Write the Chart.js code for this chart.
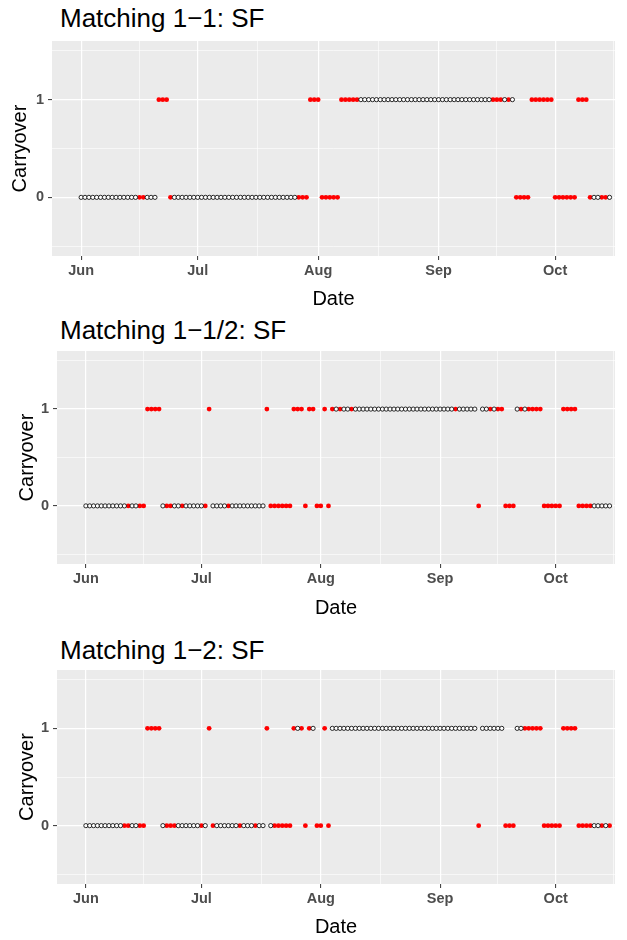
<!DOCTYPE html>
<html>
<head>
<meta charset="utf-8">
<script src="https://cdn.jsdelivr.net/npm/chart.js@4.4.0/dist/chart.umd.min.js"></script>
<style>
  body { margin: 0; background: #fff; width: 627px; height: 940px; position: relative; overflow: hidden;
         font-family: "Liberation Sans", Arial, sans-serif; }
  .title { position: absolute; left: 60px; font-size: 26px; line-height: 30px; color: #000; white-space: nowrap; }
  canvas { position: absolute; left: 0; }
</style>
</head>
<body>
<div class="title" style="top:3px">Matching 1−1: SF</div>
<div class="title" style="top:315px">Matching 1−1/2: SF</div>
<div class="title" style="top:635px">Matching 1−2: SF</div>
<canvas id="c1"></canvas>
<canvas id="c2"></canvas>
<canvas id="c3"></canvas>
<script>
// day 0 = 1 June, one entry per day up to 15 October
const monthLabels = ['Jun', 'Jul', 'Aug', 'Sep', 'Oct'];
const monthStart = [0, 30, 61, 92, 122];
const midMonth = [15, 45.5, 76.5, 107, 137];
const yBreaks = [0, 1];
const yMinor = [-0.5, 0.5, 1.5];

// carryover (0/1) per day, and whether the point is flagged red
const carry11 = [
  0,0,0,0,0,0,0,0,0,0, 0,0,0,0,0,0,0,0,0,0, 1,1,1,0,0,0,0,0,0,0, 0,0,0,0,0,0,0,0,0,0,
  0,0,0,0,0,0,0,0,0,0, 0,0,0,0,0,0,0,0,0,1, 1,1,0,0,0,0,0,1,1,1, 1,1,1,1,1,1,1,1,1,1,
  1,1,1,1,1,1,1,1,1,1, 1,1,1,1,1,1,1,1,1,1, 1,1,1,1,1,1,1,1,1,1, 1,1,0,0,0,0,1,1,1,1,
  1,1,0,0,0,0,0,0,1,1, 1,0,0,0,0,0,0
];
const red11 = [
  0,0,0,0,0,0,0,0,0,0, 0,0,0,0,0,1,1,0,0,0, 1,1,1,1,0,0,0,0,0,0, 0,0,0,0,0,0,0,0,0,0,
  0,0,0,0,0,0,0,0,0,0, 0,0,0,0,0,0,1,1,1,1, 1,1,1,1,1,1,1,1,1,1, 1,1,0,0,0,0,0,0,0,0,
  0,0,0,0,0,0,0,0,0,0, 0,0,0,0,0,0,0,0,0,0, 0,0,0,0,0,0,1,1,1,0, 1,0,1,1,1,1,1,1,1,1,
  1,1,1,1,1,1,1,1,1,1, 1,1,0,0,1,1,0
];
const carry1h = [
  0,0,0,0,0,0,0,0,0,0, 0,0,0,0,0,0,1,1,1,1, 0,0,0,0,0,0,0,0,0,0, 0,0,1,0,0,0,0,0,0,0,
  0,0,0,0,0,0,0,1,0,0, 0,0,0,0,1,1,1,0,1,1, 0,0,1,0,1,1,1,1,1,1, 1,1,1,1,1,1,1,1,1,1,
  1,1,1,1,1,1,1,1,1,1, 1,1,1,1,1,1,1,1,1,1, 1,1,0,1,1,1,1,1,1,0, 0,0,1,1,1,1,1,1,1,0,
  0,0,0,0,1,1,1,1,0,0, 0,0,0,0,0,0,0
];
const red1h = [
  0,0,0,0,0,0,0,0,0,0, 0,1,0,0,1,1,1,1,1,1, 0,1,1,0,0,1,0,0,0,0, 0,1,1,0,0,0,0,1,0,0,
  0,0,0,0,0,0,0,1,1,1, 1,1,1,1,1,1,1,1,1,1, 1,1,1,1,1,0,1,0,0,1, 0,0,0,0,0,0,0,0,0,0,
  0,0,0,0,0,0,0,0,0,0, 0,0,0,0,0,0,1,0,0,0, 0,0,1,0,0,1,0,1,1,1, 1,1,0,1,0,1,1,1,1,1,
  1,1,1,1,1,1,1,1,1,1, 1,1,0,0,0,0,0
];
const carry12 = [
  0,0,0,0,0,0,0,0,0,0, 0,0,0,0,0,0,1,1,1,1, 0,0,0,0,0,0,0,0,0,0, 0,0,1,0,0,0,0,0,0,0,
  0,0,0,0,0,0,0,1,0,0, 0,0,0,0,1,1,1,0,1,1, 0,0,1,0,1,1,1,1,1,1, 1,1,1,1,1,1,1,1,1,1,
  1,1,1,1,1,1,1,1,1,1, 1,1,1,1,1,1,1,1,1,1, 1,1,0,1,1,1,1,1,1,0, 0,0,1,1,1,1,1,1,1,0,
  0,0,0,0,1,1,1,1,0,0, 0,0,0,0,0,0,0
];
const red12 = [
  0,0,0,0,0,0,0,0,0,0, 1,1,0,0,1,1,1,1,1,1, 0,1,1,1,0,0,0,0,0,0, 1,0,1,1,0,0,0,0,0,0,
  1,0,0,0,1,0,0,1,0,1, 1,1,1,1,1,0,1,1,1,0, 1,1,1,1,0,0,0,0,0,0, 0,0,0,0,0,0,0,0,0,0,
  0,0,0,0,0,0,0,0,0,0, 0,0,0,0,0,0,0,0,0,0, 0,0,1,0,0,0,0,0,0,1, 1,1,0,0,1,1,1,1,1,1,
  1,1,1,1,1,1,1,1,1,1, 1,1,0,0,1,0,1
];

const FONT = '"Liberation Sans", Arial, sans-serif';

const panelBg = {
  id: 'panelBg',
  beforeDraw(chart) {
    const { ctx, chartArea: a } = chart;
    ctx.save();
    ctx.fillStyle = '#EBEBEB';
    ctx.fillRect(a.left, a.top, a.right - a.left, a.bottom - a.top);
    ctx.restore();
  }
};

const lineW = ctx => (ctx.tick && ctx.tick.minor ? 0.6 : 1.2);
const tickCol = ctx => (ctx.tick && ctx.tick.minor ? 'rgba(0,0,0,0)' : '#333333');

function noPad(s) {
  s.paddingTop = 0; s.paddingBottom = 0; s.paddingLeft = 0; s.paddingRight = 0;
}

function makePanel(id, geo, carry, red) {
  const canvas = document.getElementById(id);
  canvas.width = 627;
  canvas.height = geo.bottom - geo.top;
  canvas.style.top = geo.top + 'px';

  const open = [], hit = [];
  carry.forEach((v, d) => {
    (red[d] ? hit : open).push({ x: d, y: v });
  });

  new Chart(canvas, {
    type: 'scatter',
    data: {
      datasets: [
        { data: open, pointRadius: 2.1, pointHoverRadius: 2.1, pointBackgroundColor: '#FFFFFF',
          pointBorderColor: '#111111', pointBorderWidth: 0.9 },
        { data: hit, pointRadius: 2.4, pointHoverRadius: 2.4, pointBackgroundColor: '#FF0000',
          pointBorderColor: '#FF0000', pointBorderWidth: 0 }
      ]
    },
    options: {
      responsive: false,
      animation: false,
      events: [],
      layout: { autoPadding: false, padding: { top: geo.plotTop - geo.top, right: 12, left: 0, bottom: 0 } },
      plugins: { legend: { display: false }, tooltip: { enabled: false } },
      scales: {
        x: {
          type: 'linear', min: -7.5, max: 137.4,
          afterBuildTicks: s => {
            s.ticks = monthStart.map(v => ({ value: v }))
              .concat(midMonth.map(v => ({ value: v, minor: true })));
          },
          afterFit: s => { s.height = geo.bottom - geo.plotBottom; noPad(s); },
          ticks: {
            autoSkip: false, maxRotation: 0, padding: 2, color: '#4D4D4D',
            font: { family: FONT, size: 14.5, weight: 'bold' },
            callback: v => { const i = monthStart.indexOf(v); return i >= 0 ? monthLabels[i] : ''; }
          },
          grid: { color: '#FFFFFF', lineWidth: lineW, tickLength: 4, tickColor: tickCol, tickWidth: 1 },
          border: { display: false },
          title: { display: true, text: 'Date', color: '#000000', font: { family: FONT, size: 20 },
                   padding: { top: 0, bottom: 2 } }
        },
        y: {
          min: -0.6, max: 1.6,
          afterBuildTicks: s => {
            s.ticks = yBreaks.map(v => ({ value: v }))
              .concat(yMinor.map(v => ({ value: v, minor: true })));
          },
          afterFit: s => { s.width = geo.left; noPad(s); },
          ticks: {
            padding: 4, color: '#4D4D4D',
            font: { family: FONT, size: 14.5, weight: 'bold' },
            callback: v => (yBreaks.includes(v) ? String(v) : '')
          },
          grid: { color: '#FFFFFF', lineWidth: lineW, tickLength: 4, tickColor: tickCol, tickWidth: 1 },
          border: { display: false },
          title: { display: true, text: 'Carryover', color: '#000000', font: { family: FONT, size: 20 },
                   padding: { top: geo.yTitlePad, bottom: 0 } }
        }
      }
    },
    plugins: [panelBg]
  });
}

makePanel('c1', { top: 36, plotTop: 41, plotBottom: 256, bottom: 313, left: 52, yTitlePad: 8 }, carry11, red11);
makePanel('c2', { top: 346, plotTop: 351, plotBottom: 564, bottom: 622, left: 57, yTitlePad: 15 }, carry1h, red1h);
makePanel('c3', { top: 665, plotTop: 670, plotBottom: 884, bottom: 941, left: 57, yTitlePad: 15 }, carry12, red12);
</script>
</body>
</html>
